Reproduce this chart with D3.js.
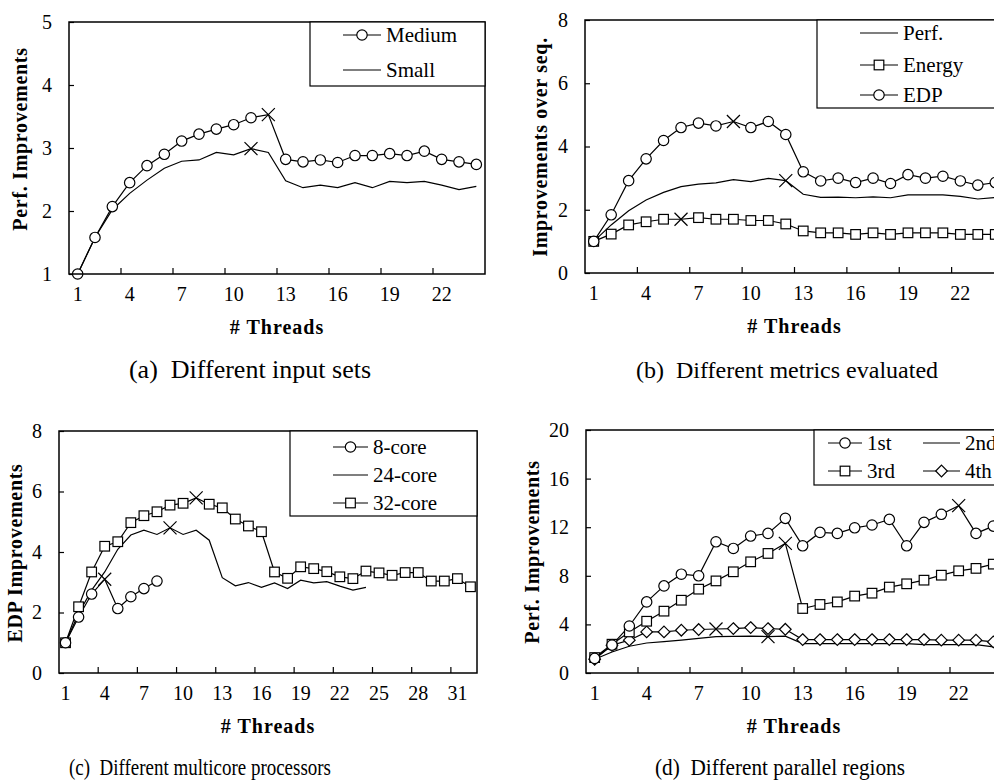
<!DOCTYPE html>
<html>
<head>
<meta charset="utf-8">
<script src="https://cdn.jsdelivr.net/npm/d3@7"></script>
<style>
  body { margin: 0; background: #fff; }
  svg { display: block; }
  text { font-family: "Liberation Serif", "Times New Roman", serif; fill: #000; }
</style>
</head>
<body>
<svg id="canvas" width="994" height="781"></svg>
<script>
// Thread counts (categories)
const threads24 = [1, 2, 3, 4, 5, 6, 7, 8, 9, 10, 11, 12, 13, 14, 15, 16, 17, 18, 19, 20, 21, 22, 23, 24];
const threads32 = [1, 2, 3, 4, 5, 6, 7, 8, 9, 10, 11, 12, 13, 14, 15, 16, 17, 18, 19, 20, 21, 22, 23, 24, 25, 26, 27, 28, 29, 30, 31, 32];

// (a) Different input sets
const inputMedium = [1.0, 1.58, 2.07, 2.45, 2.72, 2.90, 3.11, 3.22, 3.30, 3.37, 3.48, 3.53, 2.82, 2.78, 2.81, 2.77, 2.88, 2.88, 2.91, 2.88, 2.95, 2.82, 2.78, 2.74];
const inputSmall = [1.0, 1.58, 2.02, 2.28, 2.49, 2.68, 2.79, 2.81, 2.93, 2.89, 2.99, 2.93, 2.48, 2.37, 2.41, 2.37, 2.45, 2.37, 2.47, 2.45, 2.47, 2.41, 2.34, 2.39];

// (b) Different metrics evaluated
const metricPerf = [1.0, 1.52, 1.97, 2.31, 2.55, 2.73, 2.81, 2.85, 2.95, 2.89, 2.99, 2.92, 2.49, 2.39, 2.40, 2.38, 2.41, 2.38, 2.47, 2.47, 2.47, 2.42, 2.34, 2.39];
const metricEnergy = [1.0, 1.23, 1.52, 1.62, 1.70, 1.70, 1.75, 1.70, 1.70, 1.66, 1.66, 1.55, 1.33, 1.27, 1.27, 1.22, 1.27, 1.22, 1.27, 1.27, 1.27, 1.22, 1.22, 1.22];
const metricEDP = [1.0, 1.84, 2.92, 3.61, 4.19, 4.60, 4.74, 4.65, 4.79, 4.60, 4.79, 4.38, 3.20, 2.91, 3.00, 2.86, 3.00, 2.83, 3.11, 3.00, 3.06, 2.91, 2.78, 2.86];

// (c) Different multicore processors
const core8 = [1.0, 1.85, 2.61, 3.10, 2.13, 2.52, 2.79, 3.04];
const core24 = [1.0, 1.97, 2.74, 3.34, 4.09, 4.56, 4.72, 4.58, 4.80, 4.58, 4.72, 4.39, 3.15, 2.88, 2.99, 2.83, 2.98, 2.79, 3.07, 2.98, 3.02, 2.87, 2.74, 2.83];
const core32 = [1.0, 2.19, 3.34, 4.19, 4.34, 4.97, 5.20, 5.33, 5.55, 5.61, 5.79, 5.58, 5.46, 5.09, 4.86, 4.67, 3.34, 3.13, 3.51, 3.45, 3.35, 3.18, 3.12, 3.37, 3.31, 3.23, 3.32, 3.32, 3.04, 3.04, 3.12, 2.85];

// (d) Different parallel regions
const region1st = [1.2, 2.3, 3.87, 5.85, 7.17, 8.13, 8.0, 10.8, 10.25, 11.27, 11.49, 12.73, 10.47, 11.57, 11.49, 11.95, 12.18, 12.64, 10.47, 12.40, 13.06, 13.77, 11.49, 12.09];
const region2nd = [1.13, 1.73, 2.2, 2.47, 2.58, 2.7, 2.85, 3.0, 3.02, 3.03, 3.0, 3.03, 2.42, 2.42, 2.42, 2.42, 2.42, 2.42, 2.42, 2.34, 2.34, 2.34, 2.34, 2.15];
const region3rd = [1.27, 2.37, 3.38, 4.26, 5.09, 5.99, 6.90, 7.58, 8.33, 9.15, 9.84, 10.67, 5.31, 5.64, 5.85, 6.33, 6.57, 7.07, 7.34, 7.64, 8.05, 8.41, 8.61, 8.96];
const region4th = [1.13, 2.28, 2.70, 3.38, 3.38, 3.52, 3.58, 3.62, 3.66, 3.74, 3.66, 3.60, 2.75, 2.75, 2.75, 2.75, 2.75, 2.75, 2.75, 2.75, 2.70, 2.70, 2.70, 2.56];

// Thread count marked with a cross on each series
const peakMedium = 12, peakSmall = 11;
const peakPerf = 12, peakEnergy = 6, peakEDP = 9;
const peak8 = 4, peak24 = 9, peak32 = 11;
const peak1st = 22, peak2nd = 11, peak3rd = 12, peak4th = 8;

// Axis ticks
const yTicksA = [1, 2, 3, 4, 5];
const yTicksB = [0, 2, 4, 6, 8];
const yTicksC = [0, 2, 4, 6, 8];
const yTicksD = [0, 4, 8, 12, 16, 20];

const svg = d3.select('#canvas');

const drawMarker = (g, shape, cx, cy) => {
    if (shape === 'circle') {
        g.append('circle').attr('cx', cx).attr('cy', cy).attr('r', 5.2)
            .attr('fill', '#fff').attr('stroke', '#000').attr('stroke-width', 1.2);
    } else if (shape === 'square') {
        g.append('rect').attr('x', cx - 4.8).attr('y', cy - 4.8).attr('width', 9.6).attr('height', 9.6)
            .attr('fill', '#fff').attr('stroke', '#000').attr('stroke-width', 1.2);
    } else if (shape === 'diamond') {
        const r = 5.8;
        g.append('path').attr('d', `M${cx},${cy - r}L${cx + r},${cy}L${cx},${cy + r}L${cx - r},${cy}Z`)
            .attr('fill', '#fff').attr('stroke', '#000').attr('stroke-width', 1.2);
    } else if (shape === 'cross') {
        const r = 6.5;
        g.append('path').attr('d', `M${cx - r},${cy - r}L${cx + r},${cy + r}M${cx - r},${cy + r}L${cx + r},${cy - r}`)
            .attr('fill', 'none').attr('stroke', '#000').attr('stroke-width', 1.2);
    }
};

const drawPanel = (p) => {
    const g = svg.append('g');

    const x = d3.scaleBand().domain(p.categories).range([p.left, p.right]).paddingInner(0).paddingOuter(0);
    const y = d3.scaleLinear().domain(p.yDomain).range([p.bottom, p.top]);
    const cx = t => x(t) + x.bandwidth() / 2;

    // y axis (inward ticks)
    const yAxis = g.append('g').attr('transform', `translate(${p.left},0)`)
        .call(d3.axisLeft(y).tickValues(p.yTicks).tickFormat(d3.format('d')).tickSize(-5).tickPadding(17));
    yAxis.select('.domain').remove();
    yAxis.selectAll('line').attr('stroke', '#000').attr('stroke-width', 1.2);
    yAxis.selectAll('text').style('font-size', '20px').style('font-family', '"Liberation Serif", serif');

    // x axis labels every 3 threads, centered on categories
    const labels = p.categories.filter(t => (t - 1) % 3 === 0);
    const xAxis = g.append('g').attr('transform', `translate(0,${p.bottom})`)
        .call(d3.axisBottom(x).tickValues(labels).tickSize(0).tickPadding(13));
    xAxis.select('.domain').remove();
    xAxis.selectAll('text').style('font-size', '20px').style('font-family', '"Liberation Serif", serif');

    // tick marks on category boundaries every 3
    const marks = p.categories.filter(t => (t - 1) % 3 === 0 && t > 1);
    g.selectAll('.xmark').data(marks).enter().append('line')
        .attr('x1', t => x(t)).attr('x2', t => x(t))
        .attr('y1', p.bottom).attr('y2', p.bottom - 6)
        .attr('stroke', '#000').attr('stroke-width', 1.2);

    // series
    const line = d3.line().x(d => cx(d.t)).y(d => y(d.v));
    p.series.forEach(s => {
        const pts = s.values.map((v, i) => ({ t: p.categories[i], v }));
        g.append('path').datum(pts).attr('d', line)
            .attr('fill', 'none').attr('stroke', '#000').attr('stroke-width', 1.2);
    });
    p.series.forEach(s => {
        s.values.forEach((v, i) => {
            const t = p.categories[i];
            if (t === s.peak) drawMarker(g, 'cross', cx(t), y(v));
            else drawMarker(g, s.shape, cx(t), y(v));
        });
    });

    // frame
    g.append('rect').attr('x', p.left).attr('y', p.top)
        .attr('width', p.right - p.left).attr('height', p.bottom - p.top)
        .attr('fill', 'none').attr('stroke', '#000').attr('stroke-width', 1.5);

    // legend
    const lg = p.legend;
    g.append('rect').attr('x', lg.x0).attr('y', lg.y0)
        .attr('width', lg.x1 - lg.x0).attr('height', lg.y1 - lg.y0)
        .attr('fill', '#fff').attr('stroke', '#000').attr('stroke-width', 1.2);
    lg.items.forEach(it => {
        g.append('line').attr('x1', it.lx0).attr('x2', it.lx1).attr('y1', it.y).attr('y2', it.y)
            .attr('stroke', '#000').attr('stroke-width', 1.2);
        drawMarker(g, it.shape, (it.lx0 + it.lx1) / 2, it.y);
        g.append('text').attr('x', it.lx1 + 5).attr('y', it.y).attr('dy', '0.35em')
            .style('font-size', '21px').text(it.label);
    });

    // axis titles
    g.append('text').attr('x', (p.left + p.right) / 2).attr('y', p.bottom + 60)
        .attr('text-anchor', 'middle').style('font-size', '20px').style('font-weight', 'bold')
        .style('letter-spacing', '1px')
        .text('# Threads');
    g.append('text').attr('transform', `translate(${p.yTitleX},${p.yTitleY}) rotate(-90)`)
        .attr('text-anchor', 'middle').style('font-size', '20px').style('font-weight', 'bold')
        .style('letter-spacing', '0.7px')
        .text(p.yTitle);

    // caption (the lower row is set narrower in the original)
    const cap = g.append('text').attr('x', p.capX).attr('y', p.capY).attr('text-anchor', 'middle')
        .style('font-size', p.capSize + 'px').style('white-space', 'pre').text(p.caption);
    if (p.capWidth) cap.attr('textLength', p.capWidth).attr('lengthAdjust', 'spacingAndGlyphs');
};

drawPanel({
    categories: threads24, left: 69, right: 485, top: 22, bottom: 274,
    yDomain: [1, 5], yTicks: yTicksA,
    yTitle: 'Perf. Improvements', yTitleX: 27, yTitleY: 139,
    caption: '(a)  Different input sets', capX: 250, capY: 378, capSize: 26,
    series: [
        { values: inputSmall, shape: 'none', peak: peakSmall },
        { values: inputMedium, shape: 'circle', peak: peakMedium }
    ],
    legend: {
        x0: 310, x1: 485, y0: 22, y1: 86,
        items: [
            { label: 'Medium', shape: 'circle', y: 35, lx0: 343, lx1: 381 },
            { label: 'Small', shape: 'none', y: 70, lx0: 343, lx1: 381 }
        ]
    }
});

drawPanel({
    categories: threads24, left: 585, right: 1004, top: 20, bottom: 273,
    yDomain: [0, 8], yTicks: yTicksB,
    yTitle: 'Improvements over seq.', yTitleX: 547, yTitleY: 147,
    caption: '(b)  Different metrics evaluated', capX: 787, capY: 378, capSize: 24,
    series: [
        { values: metricPerf, shape: 'none', peak: peakPerf },
        { values: metricEnergy, shape: 'square', peak: peakEnergy },
        { values: metricEDP, shape: 'circle', peak: peakEDP }
    ],
    legend: {
        x0: 817, x1: 1010, y0: 20, y1: 108,
        items: [
            { label: 'Perf.', shape: 'none', y: 33, lx0: 860, lx1: 898 },
            { label: 'Energy', shape: 'square', y: 65, lx0: 860, lx1: 898 },
            { label: 'EDP', shape: 'circle', y: 95, lx0: 860, lx1: 898 }
        ]
    }
});

drawPanel({
    categories: threads32, left: 59, right: 477, top: 431, bottom: 673,
    yDomain: [0, 8], yTicks: yTicksC,
    yTitle: 'EDP Improvements', yTitleX: 22, yTitleY: 553,
    caption: '(c)  Different multicore processors', capX: 200, capY: 775, capSize: 24, capWidth: 262,
    series: [
        { values: core24, shape: 'none', peak: peak24 },
        { values: core32, shape: 'square', peak: peak32 },
        { values: core8, shape: 'circle', peak: peak8 }
    ],
    legend: {
        x0: 290, x1: 477, y0: 431, y1: 516,
        items: [
            { label: '8-core', shape: 'circle', y: 447, lx0: 333, lx1: 368 },
            { label: '24-core', shape: 'none', y: 475, lx0: 333, lx1: 368 },
            { label: '32-core', shape: 'square', y: 503, lx0: 333, lx1: 368 }
        ]
    }
});

drawPanel({
    categories: threads24, left: 586, right: 1002, top: 430, bottom: 673,
    yDomain: [0, 20], yTicks: yTicksD,
    yTitle: 'Perf. Improvements', yTitleX: 539, yTitleY: 552,
    caption: '(d)  Different parallel regions', capX: 780, capY: 775, capSize: 24, capWidth: 250,
    series: [
        { values: region2nd, shape: 'none', peak: peak2nd },
        { values: region4th, shape: 'diamond', peak: peak4th },
        { values: region3rd, shape: 'square', peak: peak3rd },
        { values: region1st, shape: 'circle', peak: peak1st }
    ],
    legend: {
        x0: 814, x1: 1010, y0: 430, y1: 485,
        items: [
            { label: '1st', shape: 'circle', y: 443, lx0: 828, lx1: 862 },
            { label: '2nd', shape: 'none', y: 443, lx0: 923, lx1: 960 },
            { label: '3rd', shape: 'square', y: 471, lx0: 828, lx1: 862 },
            { label: '4th', shape: 'diamond', y: 471, lx0: 923, lx1: 960 }
        ]
    }
});
</script>
</body>
</html>
